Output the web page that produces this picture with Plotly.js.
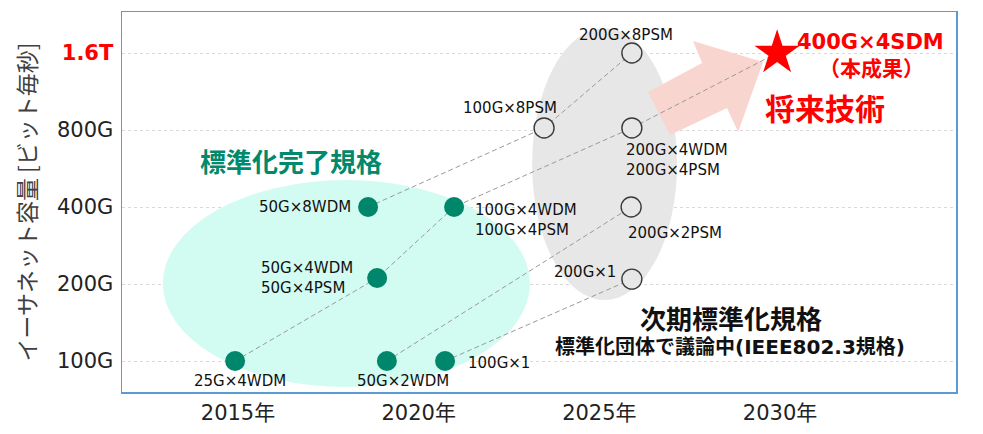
<!DOCTYPE html>
<html>
<head>
<meta charset="utf-8">
<script src="https://cdn.plot.ly/plotly-3.0.1.min.js"></script>
<style>html,body{margin:0;padding:0;background:#fff;}#chart{width:983px;height:434px;}</style>
</head>
<body>
<div id="chart"></div>
<script>
// ---- data ----
const doneNames = ['25G×4WDM', '50G×2WDM', '100G×1', '50G×4WDM<br>50G×4PSM', '50G×8WDM', '100G×4WDM<br>100G×4PSM'];
const doneYear  = [2014.92, 2019.12, 2020.73, 2018.85, 2018.6, 2020.98];
const doneRate  = [100, 100, 100, 211, 400, 400];

const nextNames = ['100G×8PSM', '200G×8PSM', '200G×4WDM<br>200G×4PSM', '200G×2PSM', '200G×1'];
const nextYear  = [2023.47, 2025.9, 2025.9, 2025.88, 2025.9];
const nextRate  = [815, 1600, 815, 400, 209];

const starName = ['400G×4SDM'];
const starYear = [2029.92];
const starRate = [1600];

// evolution paths (by label)
const paths = [
  ['25G×4WDM', '50G×4WDM<br>50G×4PSM', '100G×4WDM<br>100G×4PSM', '200G×4WDM<br>200G×4PSM', '400G×4SDM'],
  ['50G×8WDM', '100G×8PSM', '200G×8PSM'],
  ['50G×2WDM', '200G×2PSM'],
  ['100G×1', '200G×1']
];

const yTickVals = [100, 200, 400, 800, 1600];
const yTickText = ['100G', '200G', '400G', '800G', '<b><span style="color:#ff0000">1.6T</span></b>'];
const xTickVals = [2015, 2020, 2025, 2030];
const xTickText = ['2015年', '2020年', '2025年', '2030年'];

// ---- build ----
const lookup = {};
doneNames.forEach((n, i) => lookup[n] = [doneYear[i], doneRate[i]]);
nextNames.forEach((n, i) => lookup[n] = [nextYear[i], nextRate[i]]);
starName.forEach((n, i) => lookup[n] = [starYear[i], starRate[i]]);

const LAT = 'DejaVu Sans, Noto Sans CJK JP, sans-serif';
const CJK = 'Noto Sans CJK JP, DejaVu Sans, sans-serif';

const traces = [];
paths.forEach(p => {
  traces.push({
    x: p.map(n => lookup[n][0]), y: p.map(n => lookup[n][1]),
    mode: 'lines', type: 'scatter', hoverinfo: 'skip', showlegend: false,
    line: {color: '#9a9a9a', width: 1, dash: '5px,3px'}
  });
});
traces.push({
  x: doneYear, y: doneRate, text: doneNames, mode: 'markers', type: 'scatter', showlegend: false,
  marker: {color: '#00876b', size: 20, line: {width: 0}}
});
traces.push({
  x: nextYear, y: nextRate, text: nextNames, mode: 'markers', type: 'scatter', showlegend: false,
  marker: {color: '#e7e7e7', size: 20, line: {color: '#3a3a3a', width: 1.4}}
});
traces.push({
  x: starYear, y: starRate, text: starName, mode: 'markers', type: 'scatter', showlegend: false,
  marker: {color: '#ff0000', size: 34, symbol: 'star', line: {width: 0}}
});

// label placement (pixel offsets from each point)
const labelPlace = {
  '25G×4WDM': ['center', 5, -20],
  '50G×2WDM': ['center', 16, -20],
  '100G×1': ['left', 21, -2],
  '50G×4WDM<br>50G×4PSM': ['right', -22, 0],
  '50G×8WDM': ['right', -15, 0],
  '100G×4WDM<br>100G×4PSM': ['left', 19, -13],
  '100G×8PSM': ['center', -34, 20],
  '200G×8PSM': ['center', -6, 18],
  '200G×4WDM<br>200G×4PSM': ['left', -8, -32],
  '200G×2PSM': ['left', -5, -26],
  '200G×1': ['right', -14, 7]
};
const annotations = [];
doneNames.concat(nextNames).forEach(n => {
  const pl = labelPlace[n];
  annotations.push({
    x: lookup[n][0], y: Math.log10(lookup[n][1]), xref: 'x', yref: 'y',
    text: n, showarrow: false, xanchor: pl[0], yanchor: 'middle', align: 'left',
    xshift: pl[1], yshift: pl[2],
    font: {family: LAT, size: 15, color: '#111111'}
  });
});
function paperText(text, x, y, size, color, fam) {
  annotations.push({text: text, x: x, y: y, xref: 'paper', yref: 'paper', showarrow: false,
    xanchor: 'center', yanchor: 'middle', font: {family: fam, size: size, color: color}});
}
paperText('<b>標準化完了規格</b>', 0.2026, 0.6105, 26, '#00896b', CJK);
paperText('<b>400G×4SDM</b>', 0.898, 0.921, 21, '#ff0000', LAT);
paperText('<b>（本成果）</b>', 0.899, 0.855, 21, '#ff0000', CJK);
paperText('<b>将来技術</b>', 0.8435, 0.75, 30, '#ff0000', CJK);
paperText('<b>次期標準化規格</b>', 0.730, 0.197, 26, '#111111', CJK);
paperText('<b>標準化団体で議論中(IEEE802.3規格)</b>', 0.729, 0.118, 20, '#111111', LAT);

const shapes = [
  {type: 'circle', xref: 'x', yref: 'y', x0: 2012.92, x1: 2023.08, y0: 79.1, y1: 510,
   fillcolor: '#d2fbf2', line: {width: 0}, layer: 'between'},
  {type: 'circle', xref: 'x', yref: 'y', x0: 2023.14, x1: 2027.15, y0: 173, y1: 2000,
   fillcolor: '#e7e7e7', line: {width: 0}, layer: 'between'},
  {type: 'path', xref: 'x', yref: 'y',
   path: 'M 2026.348 1126 L 2027.843 1462 L 2027.593 1782 L 2029.531 1475 L 2028.839 785.7 L 2028.534 975.3 L 2026.957 764.8 Z',
   fillcolor: '#f8d5cf', line: {width: 0}, layer: 'between'}
];

const layout = {
  width: 983, height: 434,
  margin: {l: 122, r: 27, t: 12, b: 42},
  paper_bgcolor: '#ffffff', plot_bgcolor: '#ffffff',
  showlegend: false,
  xaxis: {
    range: [2011.79, 2034.87], tickvals: xTickVals, ticktext: xTickText,
    showgrid: false, zeroline: false, showline: true, mirror: true,
    linecolor: '#5b9bd5', linewidth: 1.5, ticks: '', ticklabelstandoff: 1,
    tickfont: {family: LAT, size: 21, color: '#222222'}
  },
  yaxis: {
    type: 'log', range: [1.8788, 3.3644], tickvals: yTickVals, ticktext: yTickText,
    showgrid: true, gridcolor: '#d9d9d9', griddash: 'dot', gridwidth: 1,
    zeroline: false, showline: true, mirror: true,
    linecolor: '#5b9bd5', linewidth: 1.5, ticks: '', ticklabelstandoff: 3,
    tickfont: {family: LAT, size: 21, color: '#222222'},
    title: {text: 'イーサネット容量 [ビット毎秒]', standoff: 14,
            font: {family: CJK, size: 23, color: '#404040'}}
  },
  shapes: shapes,
  annotations: annotations
};

Plotly.newPlot('chart', traces, layout, {displayModeBar: false, staticPlot: true});
</script>
</body>
</html>
